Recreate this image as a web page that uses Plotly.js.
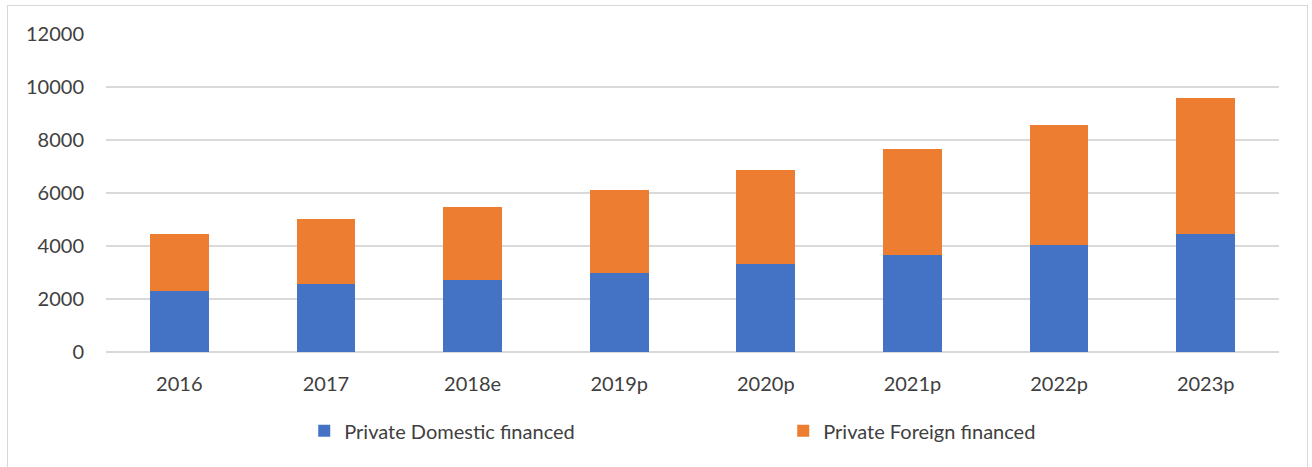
<!DOCTYPE html>
<html>
<head>
<meta charset="utf-8">
<script src="https://cdn.plot.ly/plotly-3.0.1.min.js"></script>
<style>
  body { margin: 0; background: #fff; }
  #frame { position: absolute; left: 7px; top: 5px; width: 1301px; height: 470px; border: 1px solid #d9d9d9; box-sizing: border-box; }
  #plot { position: absolute; left: 0; top: 0; width: 1312px; height: 467px; }
</style>
</head>
<body>
<div id="frame"></div>
<div id="plot"></div>
<script>
const years = ["2016", "2017", "2018e", "2019p", "2020p", "2021p", "2022p", "2023p"];
const domestic = [2320, 2580, 2720, 3000, 3310, 3660, 4040, 4470];
const foreign = [2150, 2430, 2750, 3100, 3540, 3990, 4530, 5100];

const textFont = { family: "Lato, 'Open Sans', sans-serif", size: 20, color: "#404040" };

Plotly.newPlot('plot', [{
  x: years,
  y: domestic,
  type: 'bar',
  name: 'Private Domestic financed',
  marker: { color: '#4472c4' },
  hoverinfo: 'x+y'
}, {
  x: years,
  y: foreign,
  type: 'bar',
  name: 'Private Foreign financed',
  marker: { color: '#ed7d31' },
  hoverinfo: 'x+y'
}], {
  barmode: 'stack',
  bargap: 0.6,
  width: 1312,
  height: 467,
  margin: { l: 106, r: 33, t: 34, b: 115 },
  paper_bgcolor: 'rgba(0,0,0,0)',
  plot_bgcolor: 'rgba(0,0,0,0)',
  font: textFont,
  xaxis: {
    type: 'category',
    showgrid: false,
    showline: false,
    ticks: '',
    ticklabelstandoff: 18,
    tickfont: textFont
  },
  yaxis: {
    range: [0, 12000],
    dtick: 2000,
    tickformat: 'd',
    showgrid: true,
    gridcolor: '#d9d9d9',
    gridwidth: 1.5,
    zeroline: true,
    zerolinecolor: '#d9d9d9',
    zerolinewidth: 1.5,
    showline: false,
    ticks: '',
    ticklabelstandoff: 21,
    tickfont: textFont
  },
  showlegend: true,
  legend: {
    orientation: 'h',
    x: 0.169,
    xanchor: 'left',
    y: -0.248,
    yanchor: 'middle',
    traceorder: 'normal',
    entrywidth: 434,
    font: textFont
  }
}, { displayModeBar: false, staticPlot: true });
</script>
</body>
</html>
